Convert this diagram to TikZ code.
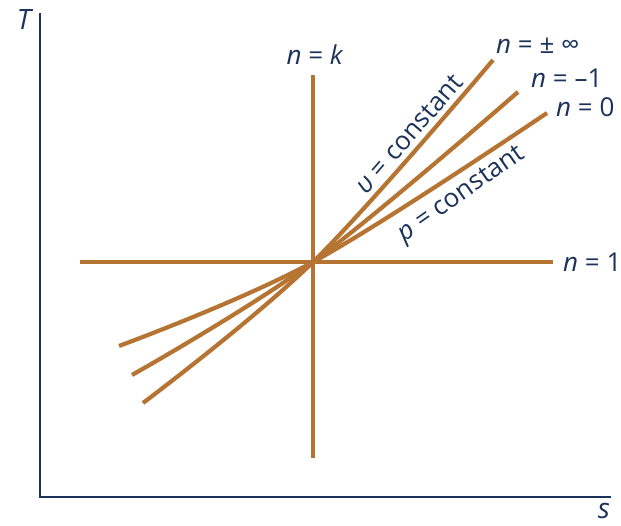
\documentclass[tikz,border=0pt]{standalone}
\usepackage{fontspec}
\setmainfont{Open Sans}
\definecolor{rust}{RGB}{181,116,50}
\definecolor{navy}{RGB}{27,50,90}
\begin{document}
\begin{tikzpicture}[x=1pt,y=-1pt,
  proc/.style={rust,line width=4.2pt},
  axis/.style={navy,line width=2.2pt,line join=miter},
  lbl/.style={text=navy,font=\fontsize{26}{31}\selectfont,inner sep=0pt},
  axlbl/.style={text=navy,font=\fontsize{28}{33}\selectfont,inner sep=0pt}]
\useasboundingbox (0,0) rectangle (621,526);
% axes
\coordinate (axT) at (40,13);
\coordinate (ax0) at (40,497);
\coordinate (axS) at (611,497);
\draw[axis] (axT) -- (ax0) -- (axS);
\node[axlbl] (T) at (25,20) {\textit{T}};
\node[axlbl] (S) at (604,511) {\textit{s}};
% center
\coordinate (O) at (313,262);
% n = k (vertical)
\coordinate (kT) at (313,75);
\coordinate (kB) at (313,458);
\draw[proc] (kB) -- (kT);
% n = 1 (horizontal)
\coordinate (hL) at (80,262);
\coordinate (hR) at (553,262);
\draw[proc] (hL) -- (hR);
% n = +-inf (v = constant)
\coordinate (v0) at (143,403);
\coordinate (v2) at (493,60);
\draw[proc] plot[smooth,tension=0.6] coordinates {(v0) (O) (v2)};
% n = -1
\coordinate (m0) at (132,375);
\coordinate (m2) at (518,92);
\draw[proc] plot[smooth,tension=0.6] coordinates {(m0) (O) (m2)};
% n = 0 (p = constant)
\coordinate (p0) at (119,346);
\coordinate (p2) at (547,113);
\draw[proc] plot[smooth,tension=0.6] coordinates {(p0) (O) (p2)};
% labels
\node[lbl] (lk) at (315,55) {\textit{n} = \textit{k}};
\node[lbl,anchor=west] (linf) at (496,46) {\textit{n} = ± ∞};
\node[lbl,anchor=west] (lm1) at (531,78) {\textit{n} = –1};
\node[lbl,anchor=west] (l0) at (556,107) {\textit{n} = 0};
\node[lbl,anchor=west] (l1) at (563,262) {\textit{n} = 1};
\node[lbl,rotate=49] (lv) at (409,134) {\textit{υ} = constant};
\node[lbl,rotate=35] (lp) at (462,195) {\textit{p} = constant};
\end{tikzpicture}
\end{document}
